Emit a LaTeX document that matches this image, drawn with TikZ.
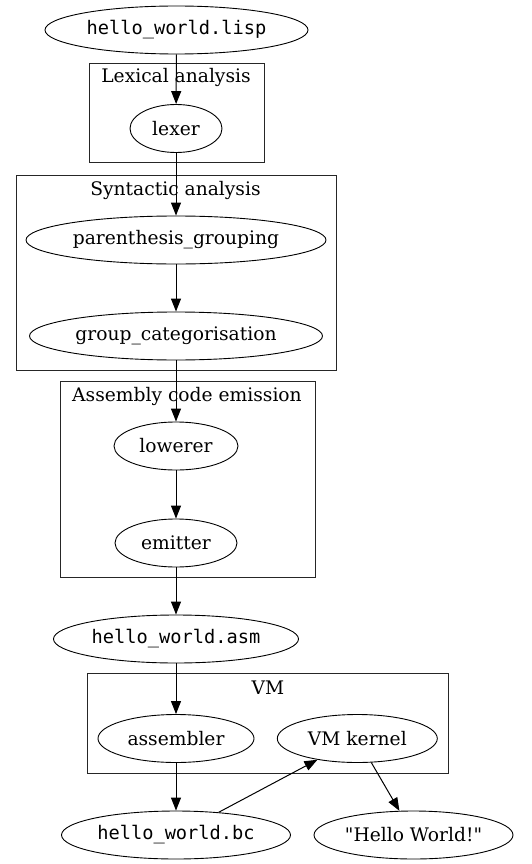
\documentclass[tikz,border=0pt]{standalone}
\usepackage{fontspec}
\setmainfont{DejaVu Serif}
\newfontfamily\qfont{DejaVu Serif}[Ligatures=TeXOff]
\newfontfamily\codefont{DejaVu Sans Mono}
\usetikzlibrary{shapes.geometric,arrows.meta}
\begin{document}
\begin{tikzpicture}[x=1pt,y=-1pt,
  every node/.style={font=\fontsize{18.67}{22}\selectfont},
  proc/.style={draw, ellipse, line width=0.9pt, inner sep=0pt, minimum height=48pt},
  file/.style={proc, font=\fontsize{18.67}{22}\selectfont\codefont},
  cluster/.style={draw, line width=1pt, black!85},
  clabel/.style={anchor=base, inner sep=0pt},
  edge/.style={-{Triangle[length=13pt,width=10pt]}, line width=1pt}]
\useasboundingbox (0,0) rectangle (531,864);

% clusters
\draw[cluster] (89,64) rectangle (264,162.5);
\node[clabel] (lexlabel) at (176,83) {Lexical analysis};
\draw[cluster] (16,175) rectangle (336,370.5);
\node[clabel] (synlabel) at (175.5,195) {Syntactic analysis};
\draw[cluster] (60,381) rectangle (315,577);
\node[clabel] (asmlabel) at (187,401.5) {Assembly code emission};
\draw[cluster] (87.5,673.5) rectangle (448,773);
\node[clabel] (vmlabel) at (268,694) {VM};

% nodes
\node[file, minimum width=263pt] (lisp) at (176.5,30) {hello\_world.lisp};
\node[proc, minimum width=92pt] (lexer) at (176,128.5) {lexer};
\node[proc, minimum width=300pt] (paren) at (176,240) {parenthesis\_grouping};
\node[proc, minimum width=293pt] (group) at (176,336) {group\_categorisation};
\node[proc, minimum width=124pt] (lowerer) at (176,446) {lowerer};
\node[proc, minimum width=122pt] (emitter) at (176,543) {emitter};
\node[file, minimum width=245pt] (asm) at (176,639) {hello\_world.asm};
\node[proc, minimum width=156pt] (assembler) at (176,738.5) {assembler};
\node[proc, minimum width=160pt] (kernel) at (357.3,738.5) {VM kernel};
\node[file, minimum width=229pt] (bc) at (176,835) {hello\_world.bc};
\node[proc, minimum width=199pt] (hello) at (413.5,835) {\qfont "Hello World!"};

% edges
\draw[edge] (lisp) -- (lexer);
\draw[edge] (lexer) -- (paren);
\draw[edge] (paren) -- (group);
\draw[edge] (group) -- (lowerer);
\draw[edge] (lowerer) -- (emitter);
\draw[edge] (emitter) -- (asm);
\draw[edge] (asm) -- (assembler);
\draw[edge] (assembler) -- (bc);
\draw[edge] (bc) -- (kernel);
\draw[edge] (kernel) -- (hello);
\end{tikzpicture}
\end{document}
